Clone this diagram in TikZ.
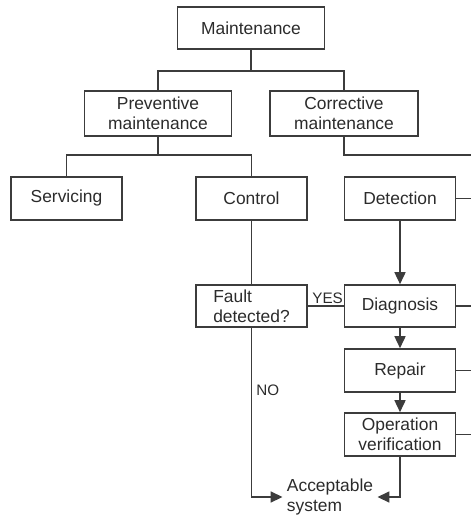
\documentclass[tikz,border=0pt]{standalone}
\usepackage{fontspec}
\setmainfont{Liberation Sans}
\usepackage{xcolor}
\usepackage{tikz}
\usetikzlibrary{arrows.meta}
\definecolor{ink}{HTML}{2B2B2B}
\definecolor{wire}{HTML}{3C3C3C}
\tikzset{
  box/.style={draw=wire, line width=0.8pt, text=ink, align=center, inner sep=0pt,
    minimum width=55.5pt, minimum height=21.5pt, font=\fontsize{8.7}{10}\selectfont},
  wide/.style={box, minimum width=73.5pt, minimum height=22.5pt},
  link/.style={draw=wire, line width=0.8pt},
  flow/.style={link, -{Triangle[length=6pt,width=5.5pt]}},
  tag/.style={text=ink, inner sep=1pt, font=\fontsize{7.6}{9}\selectfont},
  lab/.style={text=ink, align=left, inner sep=2pt, font=\fontsize{8.7}{10}\selectfont},
}
\begin{document}
\begin{tikzpicture}[x=0.5pt,y=-0.5pt]
  \useasboundingbox (0,0) rectangle (471,517);
  % tree part
  \node[wide, minimum height=21pt] (maint) at (251,28) {Maintenance};
  \node[wide] (prev) at (158,113.5) {Preventive\\maintenance};
  \node[wide, minimum width=74pt] (corr) at (344,113.5) {Corrective\\maintenance};
  \node[box] (serv) at (66.5,198.5) {Servicing};
  \node[box] (ctrl) at (251.5,198.5) {Control};
  \node[box] (detect) at (400,198.5) {Detection};
  % flow part
  \node[box, minimum height=21pt, align=left] (fault) at (251.5,306) {Fault\\detected?};
  \node[box, minimum height=21pt] (diag) at (400,306) {Diagnosis};
  \node[box] (repair) at (400,370.5) {Repair};
  \node[box] (oper) at (400,434.5) {Operation\\verification};
  \node[lab] (accept) at (330,497) {Acceptable\\system};
  \coordinate (j1) at (251,71);
  \coordinate (j2) at (158,155);
  \coordinate (j3) at (344,155);
  \coordinate (e1) at (471,155);
  \coordinate (e2) at (471,198.5);
  \coordinate (e3) at (471,306);
  \coordinate (e4) at (471,370.5);
  \coordinate (e5) at (471,434.5);
  \draw[link] (maint) -- (j1);
  \draw[link] (prev.north) |- (j1) -| (corr.north);
  \draw[link] (prev) -- (j2);
  \draw[link] (serv.north) |- (j2) -| (ctrl.north);
  \draw[link] (corr) -- (j3) -- (e1);
  \draw[link] (detect) -- (e2);
  \draw[link] (diag) -- (e3);
  \draw[link] (repair) -- (e4);
  \draw[link] (oper) -- (e5);
  \draw[link] (ctrl) -- (fault);
  \draw[link] (fault) -- node[tag, pos=0.05, anchor=south west] {YES} (diag);
  \draw[flow] (detect) -- (diag);
  \draw[flow] (diag) -- (repair);
  \draw[flow] (repair) -- (oper);
  \draw[flow] (fault.south) |- node[tag, pos=0.185, anchor=west, xshift=1pt] {NO} (accept.west);
  \draw[flow] (oper.south) |- (accept.east);
\end{tikzpicture}
\end{document}
